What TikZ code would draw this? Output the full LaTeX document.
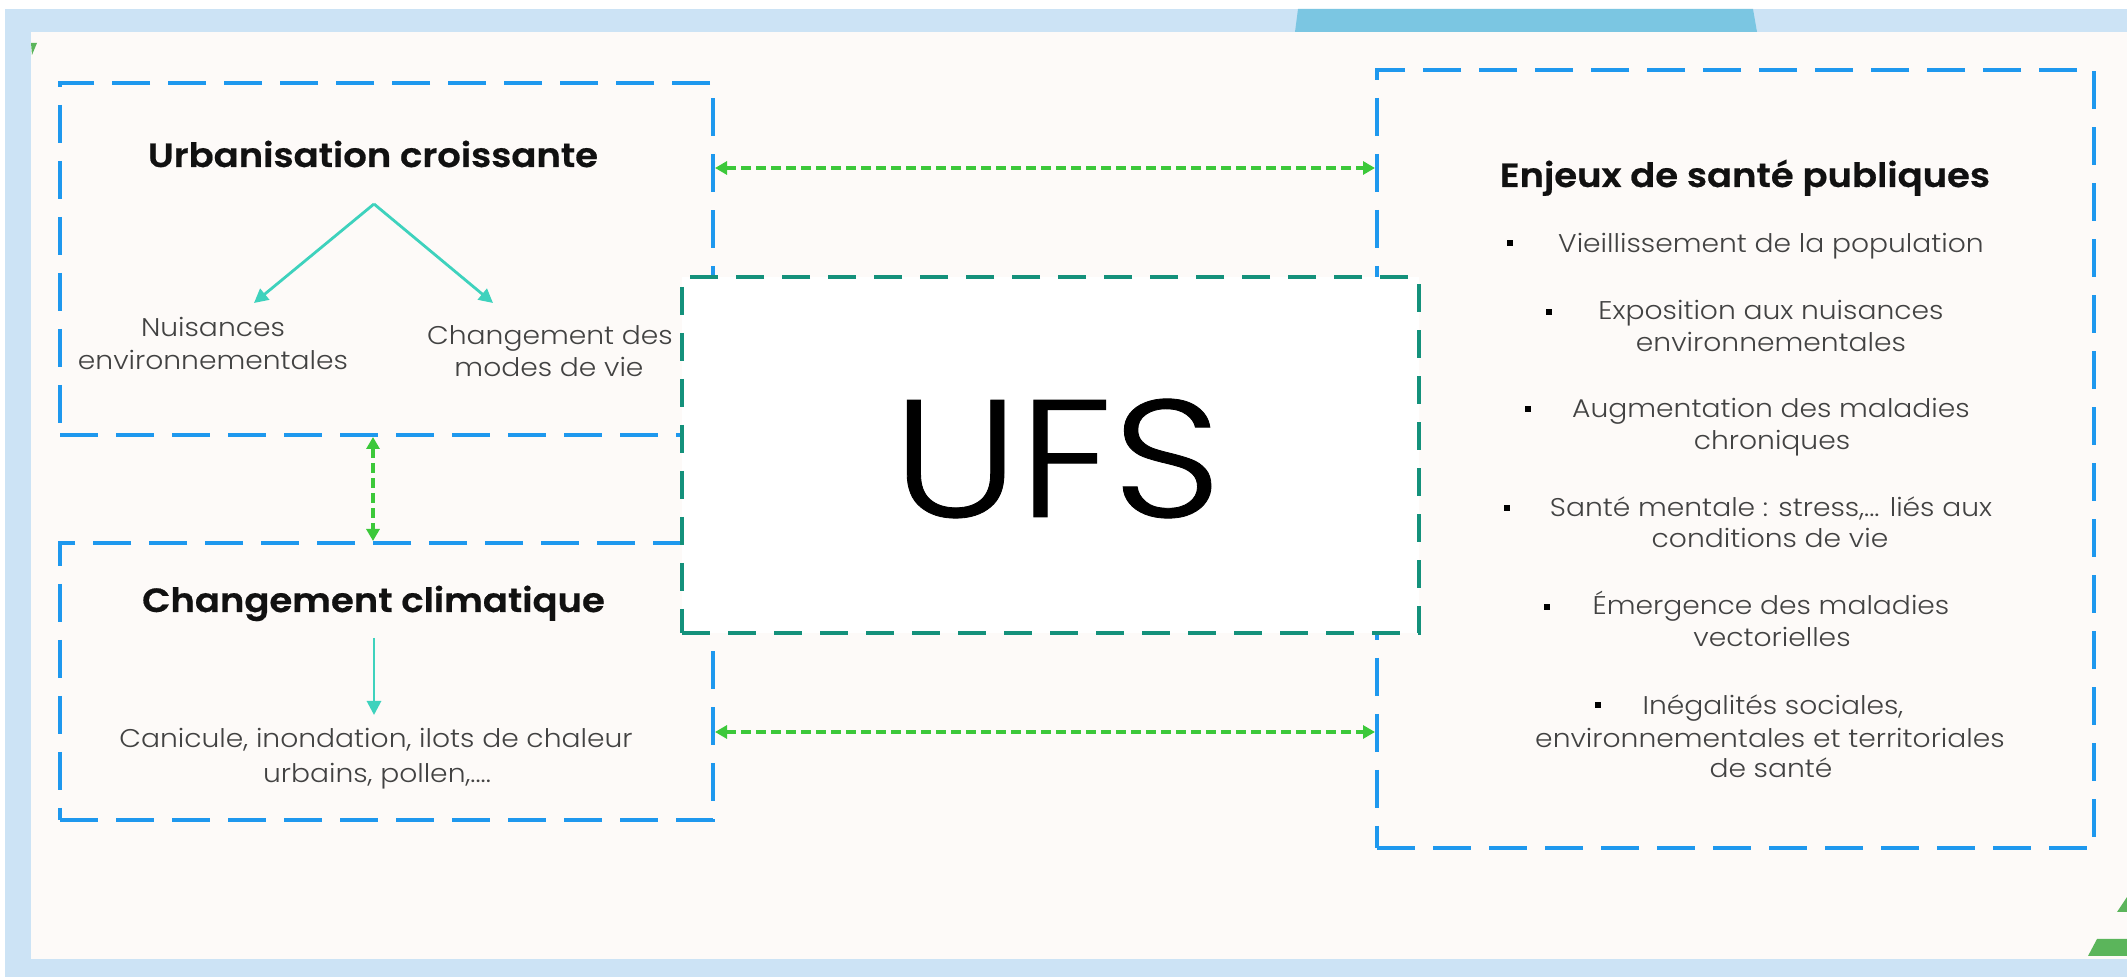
\documentclass[tikz,border=0pt]{standalone}
\usepackage{fontspec}
\setmainfont{Poppins Light}
\newfontfamily\hdfont{Poppins SemiBold}[FakeStretch=1.1, FakeBold=0.6]
\newfontfamily\bdfont{Poppins Light}[FakeStretch=1.1]
\newfontfamily\ufsfont{Poppins Light}[FakeStretch=1.14, FakeBold=0.5]
\usetikzlibrary{arrows.meta,fit}
\definecolor{bgblue}{HTML}{CCE3F5}
\definecolor{panel}{HTML}{FDFAF8}
\definecolor{tabblue}{HTML}{7BC6E2}
\definecolor{boxblue}{HTML}{1E98EE}
\definecolor{ufsteal}{HTML}{14917B}
\definecolor{arrgreen}{HTML}{3CC83A}
\definecolor{arrteal}{HTML}{3ED2BD}
\definecolor{txtgray}{HTML}{424242}
\definecolor{hdblack}{HTML}{111111}
\definecolor{decgreen}{HTML}{5BB55B}
\begin{document}
\begin{tikzpicture}[x=0.5pt,y=-0.5pt,
  bluebox/.style={draw=boxblue, line width=2pt, dash pattern=on 19pt off 9pt, inner sep=0pt},
  ufsbox/.style={draw=ufsteal, line width=2pt, dash pattern=on 14pt off 9pt, fill=white, inner sep=0pt},
  garrow/.style={draw=arrgreen, line width=1.9pt, dash pattern=on 5pt off 2.5pt,
     {Triangle[length=6pt,width=6.5pt]}-{Triangle[length=6pt,width=6.5pt]}},
  tarrow/.style={draw=arrteal, line width=1.4pt, -{Triangle[length=7pt,width=7pt]}},
  head/.style={font=\hdfont\fontsize{16.8}{19}\selectfont, text=hdblack, anchor=base, inner sep=0pt},
  body/.style={font=\bdfont\fontsize{12.8}{14}\selectfont, text=txtgray, anchor=base, inner sep=0pt},
  bul/.style={fill=black, minimum size=3pt, inner sep=0pt}]
\useasboundingbox (0,0) rectangle (2127,977);
% background
\fill[white] (0,0) rectangle (2127,977);
\fill[bgblue] (5,9) rectangle (2127,977);
\fill[tabblue] (1298,9) -- (1753,9) -- (1757,32) -- (1295,32) -- cycle;
\fill[panel] (31,32) rectangle (2127,959);
\fill[decgreen] (31,43) -- (37,43) -- (32,55) -- cycle;
\fill[decgreen] (2117,912) -- (2127,897) -- (2127,912) -- cycle;
\fill[decgreen] (2097,939) -- (2127,939) -- (2127,956) -- (2088,956) -- cycle;
% coordinates for box corners
\coordinate (b1a) at (60,83);   \coordinate (b1b) at (713,435);
\coordinate (b2a) at (60,543);  \coordinate (b2b) at (713,820);
\coordinate (b3a) at (1377,70); \coordinate (b3b) at (2094,848);
\coordinate (u1) at (682,277);  \coordinate (u2) at (1419,633);
% boxes
\node[bluebox, fit=(b1a)(b1b)] (box1) {};
\node[bluebox, fit=(b2a)(b2b)] (box2) {};
\node[bluebox, fit=(b3a)(b3b)] (box3) {};
\node[ufsbox, fit=(u1)(u2)] (ufs) {};
\node[font=\ufsfont\fontsize{83.6}{90}\selectfont, text=black, anchor=base, inner sep=0pt] (ufst) at (1057,517) {UFS};
% green double arrows
\coordinate (yt) at (0,168);
\coordinate (yb) at (0,732);
\coordinate (xv) at (373,0);
\draw[garrow] (box1.east |- yt) -- (box3.west |- yt);
\draw[garrow] (box2.east |- yb) -- (box3.west |- yb);
\draw[garrow] (box1.south -| xv) -- (box2.north -| xv);
% box 1 contents
\node[head] (h1) at (373,167) {Urbanisation croissante};
\coordinate (apex) at (374,204);
\coordinate (tipl) at (254,303);
\coordinate (tipr) at (493,303);
\draw[tarrow] (apex) -- (tipl);
\draw[tarrow] (apex) -- (tipr);
\node[body] (n1) at (213,337) {Nuisances};
\node[body] (n2) at (213,370) {environnementales};
\node[body] (c1) at (550,345) {Changement des};
\node[body] (c2) at (549,377) {modes de vie};
% box 2 contents
\node[head] (h2) at (373.5,612) {Changement climatique};
\coordinate (vtop) at (374,638);
\coordinate (vbot) at (374,715);
\draw[tarrow] (vtop) -- (vbot);
\node[body] (k1) at (376,748) {Canicule, inondation, ilots de chaleur};
\node[body] (k2) at (377,783) {urbains, pollen,....};
% box 3 contents
\node[head] (h3) at (1745,187) {Enjeux de santé publiques};
\node[bul] (p1) at (1510,243) {};
\node[body] (e1) at (1771,253) {Vieillissement de la population};
\node[bul] (p2) at (1549,312) {};
\node[body] (e2) at (1771,320) {Exposition aux nuisances};
\node[body] (e2b) at (1771,352) {environnementales};
\node[bul] (p3) at (1528,409) {};
\node[body] (e3) at (1771,418) {Augmentation des maladies};
\node[body] (e3b) at (1772,450) {chroniques};
\node[bul] (p4) at (1507,508) {};
\node[body] (e4) at (1771,517) {Santé mentale : stress,... liés aux};
\node[body] (e4b) at (1770,548) {conditions de vie};
\node[bul] (p5) at (1547,607) {};
\node[body] (e5) at (1771,615) {Émergence des maladies};
\node[body] (e5b) at (1772,647) {vectorielles};
\node[bul] (p6) at (1598,705) {};
\node[body] (e6) at (1773,715) {Inégalités sociales,};
\node[body] (e6b) at (1770,748) {environnementales et territoriales};
\node[body] (e6c) at (1771,778) {de santé};
\end{tikzpicture}
\end{document}
